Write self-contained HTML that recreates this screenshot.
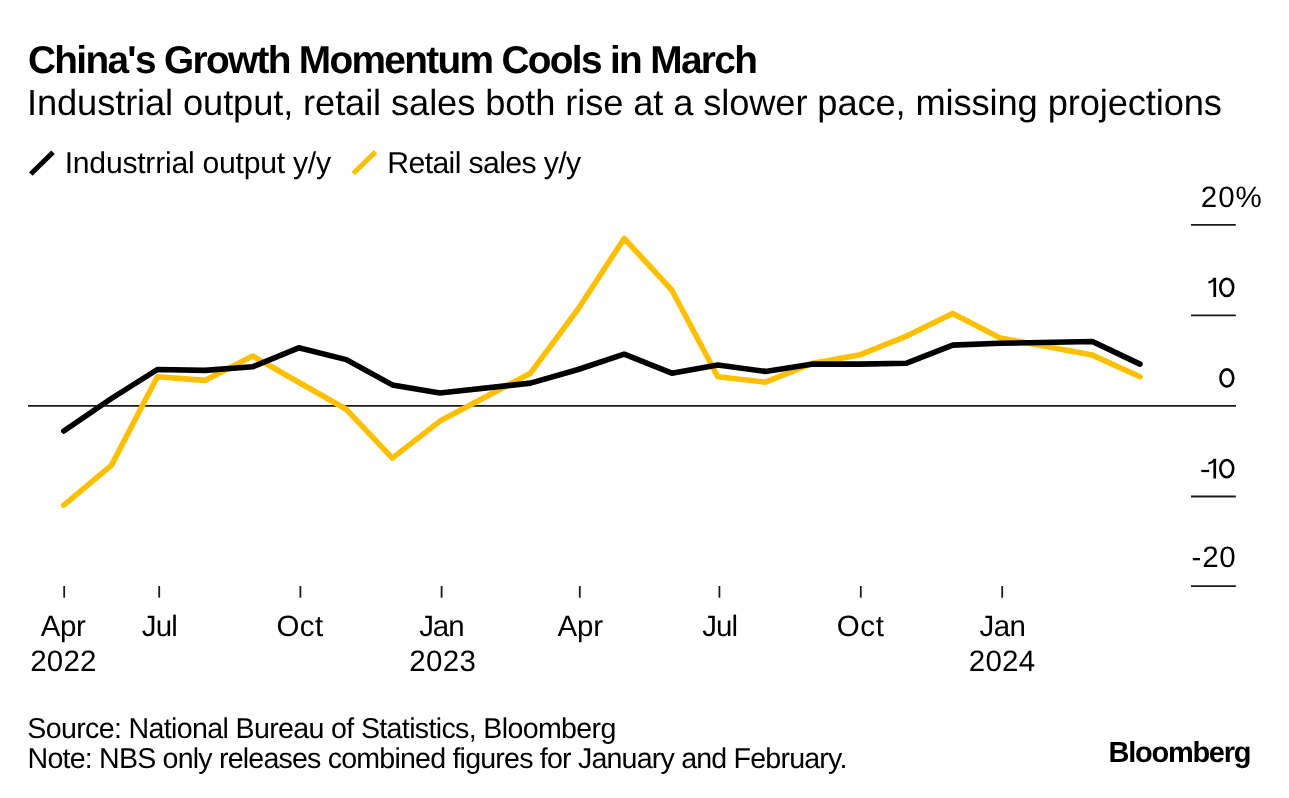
<!DOCTYPE html>
<html><head><meta charset="utf-8"><style>
html,body{margin:0;padding:0;background:#fff;}
svg{display:block;will-change:transform;}
text{font-family:"Liberation Sans", sans-serif;fill:#000;text-rendering:geometricPrecision;}
.tt{font-size:38.8px;font-weight:bold;}
.st{font-size:36.3px;}
.lg{font-size:30.2px;}
.ax{font-size:29.5px;}
.ft{font-size:28.6px;}
.logo{font-size:29px;font-weight:bold;}
</style></head><body>
<svg width="1289" height="798" viewBox="0 0 1289 798">
<line x1="28" y1="405.9" x2="1236" y2="405.9" stroke="#1a1a1a" stroke-width="1.8"/>
<line x1="1191" y1="224.9" x2="1235.8" y2="224.9" stroke="#1a1a1a" stroke-width="1.8"/>
<line x1="1191" y1="315.3" x2="1235.8" y2="315.3" stroke="#1a1a1a" stroke-width="1.8"/>
<line x1="1191" y1="496.5" x2="1235.8" y2="496.5" stroke="#1a1a1a" stroke-width="1.8"/>
<line x1="1191" y1="586.2" x2="1235.8" y2="586.2" stroke="#1a1a1a" stroke-width="1.8"/>
<line x1="64.2" y1="586" x2="64.2" y2="597.7" stroke="#1a1a1a" stroke-width="1.8"/>
<line x1="159.2" y1="586" x2="159.2" y2="597.7" stroke="#1a1a1a" stroke-width="1.8"/>
<line x1="300.4" y1="586" x2="300.4" y2="597.7" stroke="#1a1a1a" stroke-width="1.8"/>
<line x1="441.6" y1="586" x2="441.6" y2="597.7" stroke="#1a1a1a" stroke-width="1.8"/>
<line x1="579.8" y1="586" x2="579.8" y2="597.7" stroke="#1a1a1a" stroke-width="1.8"/>
<line x1="719.4" y1="586" x2="719.4" y2="597.7" stroke="#1a1a1a" stroke-width="1.8"/>
<line x1="860.8" y1="586" x2="860.8" y2="597.7" stroke="#1a1a1a" stroke-width="1.8"/>
<line x1="1002.2" y1="586" x2="1002.2" y2="597.7" stroke="#1a1a1a" stroke-width="1.8"/>
<polyline points="63.8,505.1 111.4,465.4 157.4,376.8 205.0,380.4 252.6,356.0 298.7,382.2 346.3,409.3 392.3,458.1 439.9,421.1 530.5,373.2 578.1,309.0 624.2,238.5 671.8,290.0 717.8,376.8 765.4,382.2 813.0,363.2 859.1,355.1 906.6,336.1 952.7,313.5 1000.3,337.9 1092.4,355.1 1140.0,376.8" fill="none" stroke="#FCC000" stroke-width="5.6" stroke-linejoin="round" stroke-linecap="round"/>
<polyline points="63.8,431.0 111.4,398.5 157.4,369.5 205.0,370.4 252.6,366.8 298.7,347.8 346.3,359.6 392.3,384.9 439.9,393.0 530.5,383.1 578.1,369.5 624.2,354.2 671.8,373.2 717.8,365.0 765.4,371.4 813.0,364.1 859.1,364.1 906.6,363.2 952.7,345.1 1000.3,343.3 1092.4,341.5 1140.0,364.1" fill="none" stroke="#000" stroke-width="5.6" stroke-linejoin="round" stroke-linecap="round"/>
<path d="M1216.1 277.7 L1216.1 297.0 L1213.4 297.0 L1213.4 281.3 Q1211.6 283.2 1208.4 283.4 L1208.4 281.2 Q1212.2 280.7 1213.5 277.7 Z" fill="#000"/>
<ellipse cx="1226.75" cy="287.35" rx="6.45" ry="8.65" fill="none" stroke="#000" stroke-width="2.6"/>
<path d="M1216.1 458.7 L1216.1 478.5 L1213.4 478.5 L1213.4 462.3 Q1211.6 464.2 1208.4 464.4 L1208.4 462.2 Q1212.2 461.7 1213.5 458.7 Z" fill="#000"/>
<ellipse cx="1226.75" cy="468.60" rx="6.45" ry="8.65" fill="none" stroke="#000" stroke-width="2.6"/>
<rect x="1201.3" y="469.9" width="7.9" height="2.2" fill="#000"/>
<ellipse cx="1226.85" cy="377.95" rx="6.4" ry="8.6" fill="none" stroke="#000" stroke-width="2.6"/>
<line x1="30.8" y1="174" x2="53" y2="152.3" stroke="#000" stroke-width="5"/>
<line x1="353.2" y1="173.5" x2="375.6" y2="151.9" stroke="#FCC000" stroke-width="5"/>
<text x="27.94" y="73.4" class="tt" textLength="729.89" lengthAdjust="spacing">China's Growth Momentum Cools in March</text>
<text x="26.99" y="115.3" class="st" textLength="1194.97" lengthAdjust="spacing">Industrial output, retail sales both rise at a slower pace, missing projections</text>
<text x="64.73" y="172.85" class="lg" textLength="266.25" lengthAdjust="spacing">Industrrial output y/y</text>
<text x="387.27" y="172.85" class="lg" textLength="193.75" lengthAdjust="spacing">Retail sales y/y</text>
<text x="27.30" y="737.9" class="ft" textLength="589.09" lengthAdjust="spacing">Source: National Bureau of Statistics, Bloomberg</text>
<text x="27.56" y="768.0" class="ft" textLength="819.85" lengthAdjust="spacing">Note: NBS only releases combined figures for January and February.</text>
<text x="1108.62" y="761.7" class="logo" textLength="142.82" lengthAdjust="spacing">Bloomberg</text>
<text x="1200.86" y="206.7" class="ax" textLength="60.82" lengthAdjust="spacing">20%</text>
<text x="1191.61" y="567.4" class="ax" textLength="44.06" lengthAdjust="spacing">-20</text>
<text x="40.70" y="635.8" class="ax" textLength="45.19" lengthAdjust="spacing">Apr</text>
<text x="30.27" y="670.5" class="ax" textLength="66.21" lengthAdjust="spacing">2022</text>
<text x="141.81" y="635.8" class="ax" textLength="36.11" lengthAdjust="spacing">Jul</text>
<text x="276.56" y="635.8" class="ax" textLength="46.52" lengthAdjust="spacing">Oct</text>
<text x="419.16" y="635.8" class="ax" textLength="45.45" lengthAdjust="spacing">Jan</text>
<text x="409.27" y="670.5" class="ax" textLength="66.55" lengthAdjust="spacing">2023</text>
<text x="557.45" y="635.8" class="ax" textLength="45.74" lengthAdjust="spacing">Apr</text>
<text x="702.16" y="635.8" class="ax" textLength="35.93" lengthAdjust="spacing">Jul</text>
<text x="836.82" y="635.8" class="ax" textLength="47.01" lengthAdjust="spacing">Oct</text>
<text x="979.51" y="635.8" class="ax" textLength="46.33" lengthAdjust="spacing">Jan</text>
<text x="968.76" y="670.5" class="ax" textLength="66.31" lengthAdjust="spacing">2024</text>
</svg>
</body></html>
